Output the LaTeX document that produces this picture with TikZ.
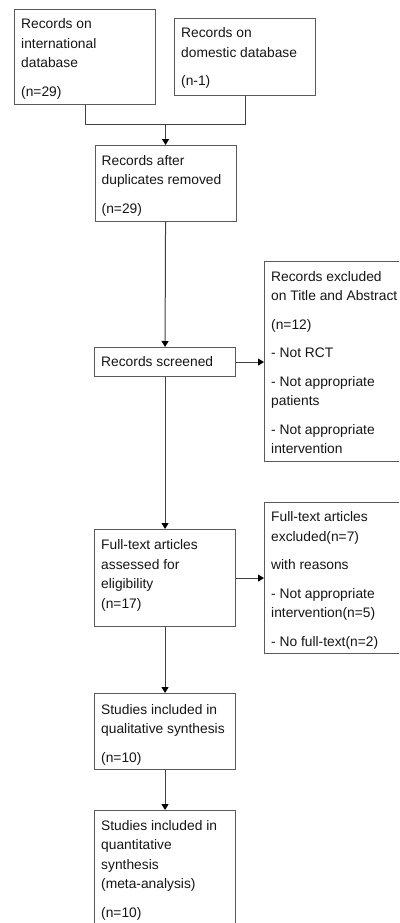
\documentclass[tikz,border=0pt]{standalone}
\usepackage{fontspec}
\setmainfont{Liberation Sans}
\usetikzlibrary{arrows.meta}
\definecolor{boxc}{HTML}{5A5A5A}
\definecolor{linec}{HTML}{404040}
\definecolor{txtc}{HTML}{151515}
\newcommand\boxtxt[1]{\begin{tabular}[t]{@{}l@{}}#1\end{tabular}}
\tikzset{
  box/.style={draw=boxc, line width=1.1pt, inner sep=0pt, anchor=north west},
  txt/.style={anchor=base west, inner sep=0pt, font=\fontsize{13.8}{19.5}\selectfont, text=txtc},
  conn/.style={draw=linec, line width=1pt},
  arr/.style={conn, -{Triangle[length=6pt,width=7pt,color=black,fill=black]}}
}
\begin{document}
\begin{tikzpicture}[x=1pt,y=-1pt]
\useasboundingbox (0,0) rectangle (399,923);
\clip (0,0) rectangle (399,923);
% boxes
\node[box, minimum width=141pt, minimum height=95pt] (b1) at (14,9) {};
\node[box, minimum width=141pt, minimum height=77pt] (b2) at (174,18) {};
\node[box, minimum width=141pt, minimum height=76pt] (b3) at (94.5,145) {};
\node[box, minimum width=141pt, minimum height=29pt] (b4) at (94,347) {};
\node[box, minimum width=142pt, minimum height=200pt] (e1) at (264,261) {};
\node[box, minimum width=141pt, minimum height=97pt] (b5) at (94,529) {};
\node[box, minimum width=142pt, minimum height=151pt] (e2) at (264,502) {};
\node[box, minimum width=141pt, minimum height=76pt] (b6) at (94,693) {};
\node[box, minimum width=141pt, minimum height=130pt] (b7) at (94,810) {};
% texts
\node[txt] (t1) at ([shift={(7,20)}]b1.north west) {\boxtxt{Records on\\international\\database\\[9pt](n=29)}};
\node[txt] (t2) at ([shift={(7,20)}]b2.north west) {\boxtxt{Records on\\domestic database\\[9pt](n-1)}};
\node[txt] (t3) at ([shift={(7,20)}]b3.north west) {\boxtxt{Records after\\duplicates removed\\[9pt](n=29)}};
\node[txt] (t4) at ([shift={(7,19.5)}]b4.north west) {Records screened};
\node[txt] (t5) at ([shift={(7,20)}]e1.north west) {\boxtxt{Records excluded\\on Title and Abstract\\[9pt](n=12)\\[9pt]- Not RCT\\[9pt]- Not appropriate\\patients\\[9pt]- Not appropriate\\intervention}};
\node[txt] (t6) at ([shift={(7,20.5)}]b5.north west) {\boxtxt{Full-text articles\\assessed for\\eligibility\\(n=17)}};
\node[txt] (t7) at ([shift={(7,19.5)}]e2.north west) {\boxtxt{Full-text articles\\excluded(n=7)\\[9pt]with reasons\\[9pt]- Not appropriate\\intervention(n=5)\\[9pt]- No full-text(n=2)}};
\node[txt] (t8) at ([shift={(7,21)}]b6.north west) {\boxtxt{Studies included in\\qualitative synthesis\\[9pt](n=10)}};
\node[txt] (t9) at ([shift={(7,20)}]b7.north west) {\boxtxt{Studies included in\\quantitative\\synthesis\\(meta-analysis)\\[9pt](n=10)}};
% connectors
\coordinate (jl) at (b1.south |- 0,124.5);
\coordinate (jr) at (b2.south |- 0,124.5);
\coordinate (jm) at (b3.north |- 0,124.5);
\draw[conn] (b1.south) -- (jl) -- (jr) -- (b2.south);
\draw[arr] (jm) -- (b3.north);
\draw[arr] (b3.south) -- (b4.north);
\draw[arr] (b4.east) -- (b4.east -| e1.west);
\draw[arr] (b4.south) -- (b5.north);
\draw[arr] (b5.east) -- (b5.east -| e2.west);
\draw[arr] (b5.south) -- (b6.north);
\draw[arr] (b6.south) -- (b7.north);
\end{tikzpicture}
\end{document}
